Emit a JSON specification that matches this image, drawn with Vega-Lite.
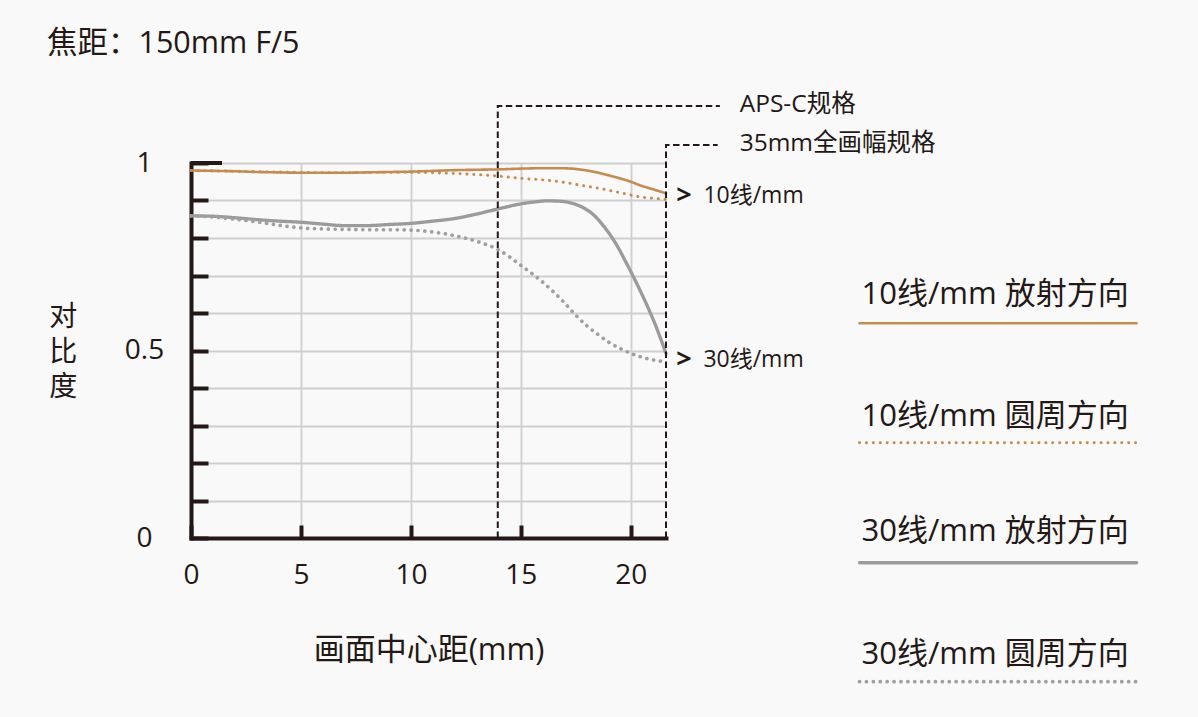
{
  "$schema": "https://vega.github.io/schema/vega-lite/v6.json",
  "width": 475,
  "height": 375,
  "autosize": {"type": "none"},
  "padding": {"left": 191, "top": 163, "right": 532, "bottom": 179},
  "background": "#f9f9f9",
  "config": {
    "view": {"stroke": null},
    "font": "Open Sans, Noto Sans CJK SC",
    "text": {"color": "#231815"}
  },
  "datasets": {
    "curves": [
      {"series": "10线/mm 放射方向", "r": 0, "contrast": 0.98},
      {"series": "10线/mm 放射方向", "r": 1, "contrast": 0.979},
      {"series": "10线/mm 放射方向", "r": 2, "contrast": 0.978},
      {"series": "10线/mm 放射方向", "r": 3, "contrast": 0.976},
      {"series": "10线/mm 放射方向", "r": 4, "contrast": 0.975},
      {"series": "10线/mm 放射方向", "r": 5, "contrast": 0.974},
      {"series": "10线/mm 放射方向", "r": 6, "contrast": 0.974},
      {"series": "10线/mm 放射方向", "r": 7, "contrast": 0.974},
      {"series": "10线/mm 放射方向", "r": 8, "contrast": 0.975},
      {"series": "10线/mm 放射方向", "r": 9, "contrast": 0.976},
      {"series": "10线/mm 放射方向", "r": 10, "contrast": 0.977},
      {"series": "10线/mm 放射方向", "r": 11, "contrast": 0.979},
      {"series": "10线/mm 放射方向", "r": 12, "contrast": 0.981},
      {"series": "10线/mm 放射方向", "r": 13, "contrast": 0.982},
      {"series": "10线/mm 放射方向", "r": 14, "contrast": 0.983},
      {"series": "10线/mm 放射方向", "r": 15, "contrast": 0.985},
      {"series": "10线/mm 放射方向", "r": 16, "contrast": 0.986},
      {"series": "10线/mm 放射方向", "r": 16.8, "contrast": 0.986},
      {"series": "10线/mm 放射方向", "r": 17.5, "contrast": 0.984},
      {"series": "10线/mm 放射方向", "r": 18, "contrast": 0.98},
      {"series": "10线/mm 放射方向", "r": 18.6, "contrast": 0.973},
      {"series": "10线/mm 放射方向", "r": 19, "contrast": 0.967},
      {"series": "10线/mm 放射方向", "r": 19.5, "contrast": 0.959},
      {"series": "10线/mm 放射方向", "r": 20, "contrast": 0.95},
      {"series": "10线/mm 放射方向", "r": 20.4, "contrast": 0.941},
      {"series": "10线/mm 放射方向", "r": 21, "contrast": 0.93},
      {"series": "10线/mm 放射方向", "r": 21.6, "contrast": 0.919},
      {"series": "10线/mm 圆周方向", "r": 0, "contrast": 0.98},
      {"series": "10线/mm 圆周方向", "r": 1, "contrast": 0.979},
      {"series": "10线/mm 圆周方向", "r": 2, "contrast": 0.978},
      {"series": "10线/mm 圆周方向", "r": 3, "contrast": 0.977},
      {"series": "10线/mm 圆周方向", "r": 4, "contrast": 0.976},
      {"series": "10线/mm 圆周方向", "r": 5, "contrast": 0.975},
      {"series": "10线/mm 圆周方向", "r": 6, "contrast": 0.974},
      {"series": "10线/mm 圆周方向", "r": 7, "contrast": 0.974},
      {"series": "10线/mm 圆周方向", "r": 8, "contrast": 0.975},
      {"series": "10线/mm 圆周方向", "r": 9, "contrast": 0.975},
      {"series": "10线/mm 圆周方向", "r": 10, "contrast": 0.975},
      {"series": "10线/mm 圆周方向", "r": 11, "contrast": 0.974},
      {"series": "10线/mm 圆周方向", "r": 12, "contrast": 0.972},
      {"series": "10线/mm 圆周方向", "r": 13, "contrast": 0.969},
      {"series": "10线/mm 圆周方向", "r": 14, "contrast": 0.965},
      {"series": "10线/mm 圆周方向", "r": 15, "contrast": 0.959},
      {"series": "10线/mm 圆周方向", "r": 16, "contrast": 0.955},
      {"series": "10线/mm 圆周方向", "r": 16.8, "contrast": 0.95},
      {"series": "10线/mm 圆周方向", "r": 17.5, "contrast": 0.943},
      {"series": "10线/mm 圆周方向", "r": 18.6, "contrast": 0.932},
      {"series": "10线/mm 圆周方向", "r": 19.5, "contrast": 0.921},
      {"series": "10线/mm 圆周方向", "r": 20.4, "contrast": 0.91},
      {"series": "10线/mm 圆周方向", "r": 21, "contrast": 0.906},
      {"series": "10线/mm 圆周方向", "r": 21.6, "contrast": 0.903},
      {"series": "30线/mm 放射方向", "r": 0, "contrast": 0.859},
      {"series": "30线/mm 放射方向", "r": 1, "contrast": 0.858},
      {"series": "30线/mm 放射方向", "r": 2, "contrast": 0.854},
      {"series": "30线/mm 放射方向", "r": 3, "contrast": 0.849},
      {"series": "30线/mm 放射方向", "r": 4, "contrast": 0.845},
      {"series": "30线/mm 放射方向", "r": 5, "contrast": 0.842},
      {"series": "30线/mm 放射方向", "r": 6, "contrast": 0.837},
      {"series": "30线/mm 放射方向", "r": 7, "contrast": 0.833},
      {"series": "30线/mm 放射方向", "r": 8, "contrast": 0.833},
      {"series": "30线/mm 放射方向", "r": 9, "contrast": 0.836},
      {"series": "30线/mm 放射方向", "r": 10, "contrast": 0.839},
      {"series": "30线/mm 放射方向", "r": 11, "contrast": 0.845},
      {"series": "30线/mm 放射方向", "r": 12, "contrast": 0.852},
      {"series": "30线/mm 放射方向", "r": 13, "contrast": 0.864},
      {"series": "30线/mm 放射方向", "r": 14, "contrast": 0.878},
      {"series": "30线/mm 放射方向", "r": 15, "contrast": 0.891},
      {"series": "30线/mm 放射方向", "r": 15.6, "contrast": 0.896},
      {"series": "30线/mm 放射方向", "r": 16.2, "contrast": 0.899},
      {"series": "30线/mm 放射方向", "r": 16.8, "contrast": 0.898},
      {"series": "30线/mm 放射方向", "r": 17.3, "contrast": 0.893},
      {"series": "30线/mm 放射方向", "r": 17.8, "contrast": 0.882},
      {"series": "30线/mm 放射方向", "r": 18.3, "contrast": 0.862},
      {"series": "30线/mm 放射方向", "r": 18.8, "contrast": 0.829},
      {"series": "30线/mm 放射方向", "r": 19.3, "contrast": 0.787},
      {"series": "30线/mm 放射方向", "r": 19.8, "contrast": 0.733},
      {"series": "30线/mm 放射方向", "r": 20.3, "contrast": 0.675},
      {"series": "30线/mm 放射方向", "r": 20.8, "contrast": 0.612},
      {"series": "30线/mm 放射方向", "r": 21.2, "contrast": 0.556},
      {"series": "30线/mm 放射方向", "r": 21.6, "contrast": 0.492},
      {"series": "30线/mm 圆周方向", "r": 0, "contrast": 0.859},
      {"series": "30线/mm 圆周方向", "r": 1, "contrast": 0.856},
      {"series": "30线/mm 圆周方向", "r": 2, "contrast": 0.85},
      {"series": "30线/mm 圆周方向", "r": 3, "contrast": 0.843},
      {"series": "30线/mm 圆周方向", "r": 4, "contrast": 0.834},
      {"series": "30线/mm 圆周方向", "r": 5, "contrast": 0.827},
      {"series": "30线/mm 圆周方向", "r": 6, "contrast": 0.824},
      {"series": "30线/mm 圆周方向", "r": 7, "contrast": 0.823},
      {"series": "30线/mm 圆周方向", "r": 8, "contrast": 0.822},
      {"series": "30线/mm 圆周方向", "r": 9, "contrast": 0.822},
      {"series": "30线/mm 圆周方向", "r": 10, "contrast": 0.821},
      {"series": "30线/mm 圆周方向", "r": 11, "contrast": 0.816},
      {"series": "30线/mm 圆周方向", "r": 12, "contrast": 0.806},
      {"series": "30线/mm 圆周方向", "r": 13, "contrast": 0.791},
      {"series": "30线/mm 圆周方向", "r": 14, "contrast": 0.768},
      {"series": "30线/mm 圆周方向", "r": 15, "contrast": 0.727},
      {"series": "30线/mm 圆周方向", "r": 16, "contrast": 0.682},
      {"series": "30线/mm 圆周方向", "r": 17, "contrast": 0.626},
      {"series": "30线/mm 圆周方向", "r": 17.5, "contrast": 0.594},
      {"series": "30线/mm 圆周方向", "r": 18, "contrast": 0.566},
      {"series": "30线/mm 圆周方向", "r": 18.5, "contrast": 0.543},
      {"series": "30线/mm 圆周方向", "r": 19, "contrast": 0.522},
      {"series": "30线/mm 圆周方向", "r": 19.6, "contrast": 0.503},
      {"series": "30线/mm 圆周方向", "r": 20.2, "contrast": 0.488},
      {"series": "30线/mm 圆周方向", "r": 20.7, "contrast": 0.479},
      {"series": "30线/mm 圆周方向", "r": 21.2, "contrast": 0.473},
      {"series": "30线/mm 圆周方向", "r": 21.6, "contrast": 0.47}
    ],
    "frames": [
      {"frame": "APS-C", "k": 0, "r": 13.95, "contrast": 0},
      {"frame": "APS-C", "k": 1, "r": 13.95, "contrast": 1.152},
      {"frame": "APS-C", "k": 2, "r": 24.05, "contrast": 1.152},
      {"frame": "35mm", "k": 0, "r": 21.6, "contrast": 0},
      {"frame": "35mm", "k": 1, "r": 21.6, "contrast": 1.048},
      {"frame": "35mm", "k": 2, "r": 23.95, "contrast": 1.048}
    ],
    "frameLabels": [
      {"text": "APS-C规格", "r": 24.95, "contrast": 1.155},
      {"text": "35mm全画幅规格", "r": 24.95, "contrast": 1.052}
    ],
    "freqLabels": [
      {"text": "10线/mm", "arrowR": 22.42, "labelR": 23.3, "contrast": 0.912},
      {"text": "30线/mm", "arrowR": 22.42, "labelR": 23.3, "contrast": 0.475}
    ],
    "topTick": [
      {"r0": 0, "r1": 1.41, "contrast": 1}
    ],
    "heading": [
      {"text": "焦距：150mm F/5", "r": -6.55, "contrast": 1.317}
    ],
    "yTitle": [
      {"text": ["对", "比", "度"], "r": -5.81, "contrast": 0.587}
    ],
    "legendItems": [
      {"series": "10线/mm 放射方向", "textR": 30.49, "textY": 0.648, "lineR0": 30.4, "lineR1": 43.0, "lineY": 0.5725},
      {"series": "10线/mm 圆周方向", "textR": 30.49, "textY": 0.3235, "lineR0": 30.4, "lineR1": 43.0, "lineY": 0.2541},
      {"series": "30线/mm 放射方向", "textR": 30.49, "textY": 0.0168, "lineR0": 30.4, "lineR1": 43.0, "lineY": -0.0659},
      {"series": "30线/mm 圆周方向", "textR": 30.49, "textY": -0.312, "lineR0": 30.4, "lineR1": 43.0, "lineY": -0.3832}
    ]
  },
  "layer": [
    {
      "data": {"name": "curves"},
      "mark": {"type": "line", "interpolate": "monotone", "strokeCap": "round", "clip": false},
      "encoding": {
        "x": {
          "field": "r", "type": "quantitative",
          "scale": {"domain": [0, 21.6], "nice": false, "zero": false},
          "axis": {
            "values": [0, 5, 10, 15, 20], "tickCount": 30,
            "grid": true, "gridColor": "#cfcfcf", "gridWidth": 1.8,
            "domainColor": "#231815", "domainWidth": 4, "domainCap": "square",
            "tickColor": "#231815", "tickWidth": 4, "tickSize": -13,
            "labelFontSize": 28, "labelColor": "#231815", "labelPadding": 50,
            "labelBaseline": "middle", "labelAlign": "center", "labelFlush": false, "labelOverlap": false,
            "title": "画面中心距(mm)", "titleFontSize": 31, "titleFontWeight": "normal",
            "titleColor": "#231815", "titlePadding": 46
          }
        },
        "y": {
          "field": "contrast", "type": "quantitative",
          "scale": {"domain": [0, 1], "nice": false, "zero": false},
          "axis": {
            "values": [0, 0.1, 0.2, 0.3, 0.4, 0.5, 0.6, 0.7, 0.8, 0.9, 1], "tickCount": 30,
            "grid": true, "gridColor": "#cfcfcf", "gridWidth": 1.8,
            "domainColor": "#231815", "domainWidth": 4, "domainCap": "square",
            "tickColor": "#231815", "tickWidth": 4, "tickSize": -17,
            "labelExpr": "datum.value === 0 ? '0' : datum.value === 0.5 ? '0.5' : datum.value === 1 ? '1' : ''",
            "labelFontSize": 28, "labelColor": "#231815", "labelPadding": 64,
            "labelBaseline": "middle", "labelAlign": "center", "labelFlush": false, "labelOverlap": false,
            "title": null
          }
        },
        "color": {
          "field": "series", "type": "nominal", "legend": null,
          "scale": {
            "domain": ["10线/mm 放射方向", "10线/mm 圆周方向", "30线/mm 放射方向", "30线/mm 圆周方向"],
            "range": ["#c68b4f", "#c68b4f", "#9b9b9b", "#a0a0a0"]
          }
        },
        "strokeDash": {
          "field": "series", "type": "nominal", "legend": null,
          "scale": {
            "domain": ["10线/mm 放射方向", "10线/mm 圆周方向", "30线/mm 放射方向", "30线/mm 圆周方向"],
            "range": [[1, 0], [0.1, 6.8], [1, 0], [0.1, 6.8]]
          }
        },
        "strokeWidth": {
          "field": "series", "type": "nominal", "legend": null,
          "scale": {
            "domain": ["10线/mm 放射方向", "10线/mm 圆周方向", "30线/mm 放射方向", "30线/mm 圆周方向"],
            "range": [2.6, 3.7, 2.6, 3.7]
          }
        }
      }
    },
    {
      "data": {"name": "frames"},
      "mark": {"type": "line", "color": "#231815", "strokeWidth": 2, "strokeDash": [6.5, 3.5], "clip": false},
      "encoding": {
        "x": {"field": "r", "type": "quantitative"},
        "y": {"field": "contrast", "type": "quantitative"},
        "detail": {"field": "frame"},
        "order": {"field": "k", "type": "quantitative"}
      }
    },
    {
      "data": {"name": "topTick"},
      "mark": {"type": "rule", "color": "#231815", "strokeWidth": 4, "clip": false},
      "encoding": {
        "x": {"field": "r0", "type": "quantitative"},
        "x2": {"field": "r1"},
        "y": {"field": "contrast", "type": "quantitative"}
      }
    },
    {
      "data": {"name": "frameLabels"},
      "mark": {"type": "text", "align": "left", "baseline": "middle", "fontSize": 24.5, "clip": false},
      "encoding": {
        "x": {"field": "r", "type": "quantitative"},
        "y": {"field": "contrast", "type": "quantitative"},
        "text": {"field": "text"}
      }
    },
    {
      "data": {"name": "freqLabels"},
      "mark": {"type": "text", "align": "center", "baseline": "middle", "fontSize": 27, "fontWeight": "bold", "clip": false},
      "encoding": {
        "x": {"field": "arrowR", "type": "quantitative"},
        "y": {"field": "contrast", "type": "quantitative"},
        "text": {"value": ">"}
      }
    },
    {
      "data": {"name": "freqLabels"},
      "mark": {"type": "text", "align": "left", "baseline": "middle", "fontSize": 23, "clip": false},
      "encoding": {
        "x": {"field": "labelR", "type": "quantitative"},
        "y": {"field": "contrast", "type": "quantitative"},
        "text": {"field": "text"}
      }
    },
    {
      "data": {"name": "heading"},
      "mark": {"type": "text", "align": "left", "baseline": "middle", "fontSize": 30.5, "clip": false},
      "encoding": {
        "x": {"field": "r", "type": "quantitative"},
        "y": {"field": "contrast", "type": "quantitative"},
        "text": {"field": "text"}
      }
    },
    {
      "data": {"name": "yTitle"},
      "mark": {"type": "text", "align": "center", "baseline": "middle", "fontSize": 28, "lineHeight": 35, "clip": false},
      "encoding": {
        "x": {"field": "r", "type": "quantitative"},
        "y": {"field": "contrast", "type": "quantitative"},
        "text": {"field": "text"}
      }
    },
    {
      "data": {"name": "legendItems"},
      "mark": {"type": "rule", "strokeCap": "round", "clip": false},
      "encoding": {
        "x": {"field": "lineR0", "type": "quantitative"},
        "x2": {"field": "lineR1"},
        "y": {"field": "lineY", "type": "quantitative"},
        "color": {"field": "series", "type": "nominal", "legend": null},
        "strokeDash": {"field": "series", "type": "nominal", "legend": null},
        "strokeWidth": {"field": "series", "type": "nominal", "legend": null}
      }
    },
    {
      "data": {"name": "legendItems"},
      "mark": {"type": "text", "align": "left", "baseline": "middle", "fontSize": 31, "clip": false},
      "encoding": {
        "x": {"field": "textR", "type": "quantitative"},
        "y": {"field": "textY", "type": "quantitative"},
        "text": {"field": "series"}
      }
    }
  ]
}
